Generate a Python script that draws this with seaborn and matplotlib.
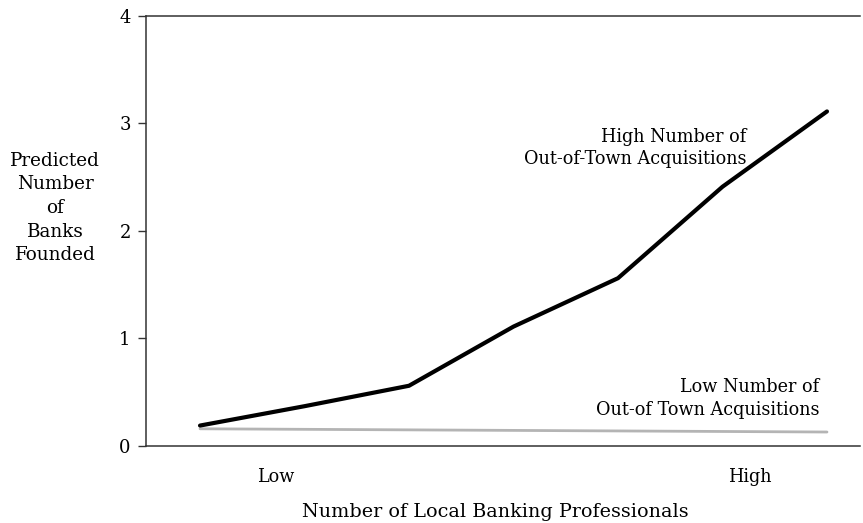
import numpy as np
import matplotlib.pyplot as plt
import pandas as pd
import seaborn as sns

# values
x_pos = [1, 2, 3, 4, 5, 6, 7]
high_acq = [0.19, 0.37, 0.56, 1.11, 1.56, 2.41, 3.11]
low_acq = [0.16, 0.155, 0.15, 0.145, 0.14, 0.135, 0.13]
y_ticks = [0, 1, 2, 3, 4]
x_tick_pos = [1.72, 6.26]
x_tick_labels = ["Low", "High"]

sns.set_style("white")
plt.rcParams['font.family'] = ['DejaVu Serif']
plt.rcParams['text.color'] = 'black'
plt.rcParams['xtick.color'] = 'black'
plt.rcParams['ytick.color'] = 'black'

df_high = pd.DataFrame({"x": x_pos, "y": high_acq})
df_low = pd.DataFrame({"x": x_pos, "y": low_acq})

fig = plt.figure(figsize=(8.63, 5.23), dpi=100)
ax = fig.add_axes([146/863, 1-446/523, (860-146)/863, (446-15.7)/523])

sns.lineplot(data=df_low, x="x", y="y", color="#b4b4b4", lw=2.0, ax=ax)
sns.lineplot(data=df_high, x="x", y="y", color="black", lw=3.0, ax=ax)

ax.set_xlim(0.483, 7.316)
ax.set_ylim(0, 4)
ax.set_yticks(y_ticks)
ax.set_xticks(x_tick_pos)
ax.set_xticklabels(x_tick_labels, fontsize=12.7)
ax.tick_params(axis='x', length=0, pad=16)
ax.tick_params(axis='y', length=6, width=1, direction='out', pad=5, labelsize=13, color='#333333', left=True)
ax.set_xlabel("")
ax.set_ylabel("")

for side in ['left', 'bottom', 'top']:
    ax.spines[side].set_visible(True)
    ax.spines[side].set_color('#333333')
    ax.spines[side].set_linewidth(1.1)
ax.spines['right'].set_visible(False)

ax.text(6.23, 2.77, "High Number of\nOut-of-Town Acquisitions", ha='right', va='center',
        multialignment='right', fontsize=12.7, linespacing=1.35)
ax.text(6.93, 0.44, "Low Number of\nOut-of Town Acquisitions", ha='right', va='center',
        multialignment='right', fontsize=12.7, linespacing=1.35)

fig.text(55/863, 1-208/523, "Predicted\nNumber\nof\nBanks\nFounded", ha='center', va='center',
         fontsize=13.2, linespacing=1.4)
fig.text(495/863, 1-512/523, "Number of Local Banking Professionals", ha='center', va='center',
         fontsize=13.75)

fig.savefig("out.png", dpi=100, facecolor='white')
